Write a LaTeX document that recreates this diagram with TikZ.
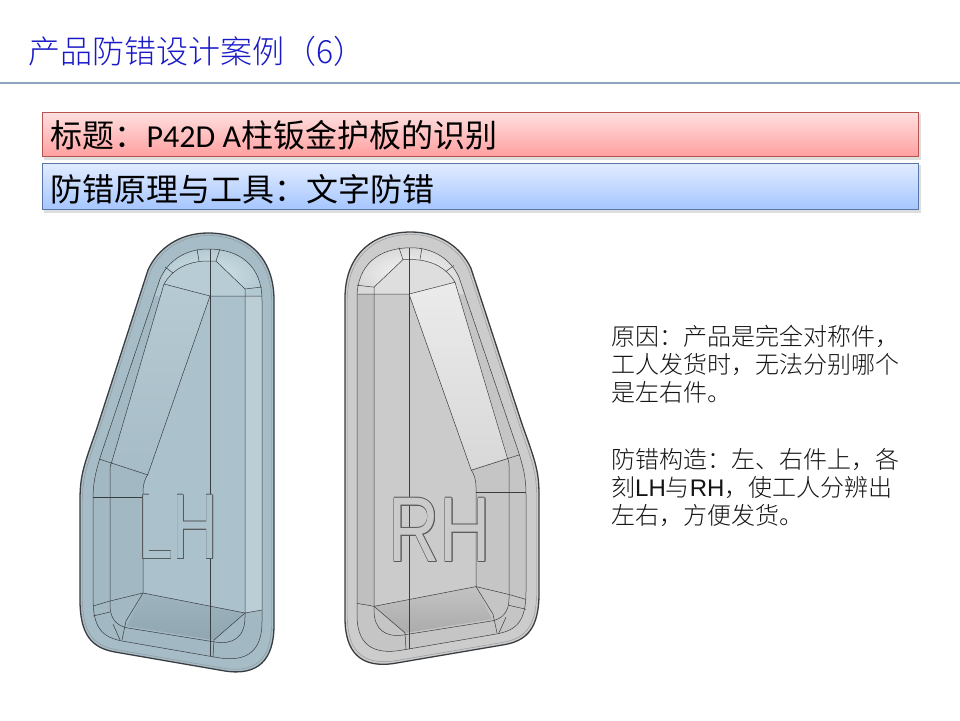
\documentclass[tikz,border=0pt]{standalone}
\usepackage{fontspec}
\setmainfont{Noto Sans CJK SC}
\IfFontExistsTF{Noto Sans CJK SC Light}{\newfontfamily\lightcjk{Noto Sans CJK SC Light}}{\newfontfamily\lightcjk{Noto Sans CJK SC}}
\newfontfamily\carlito{Carlito}
\newfontfamily\arialf{Liberation Sans}
\definecolor{titleblue}{RGB}{25,25,200}
\definecolor{headc}{RGB}{141,165,191}
\definecolor{redtop}{RGB}{255,224,224}
\definecolor{redbot}{RGB}{255,160,160}
\definecolor{redline}{RGB}{184,84,80}
\definecolor{bluetop}{RGB}{226,236,255}
\definecolor{bluebot}{RGB}{166,198,255}
\definecolor{blueline}{RGB}{86,119,168}
\definecolor{linec}{RGB}{58,62,66}
\definecolor{bodyc}{RGB}{20,20,20}
\definecolor{lhfloor}{HTML}{ABC1CB}
\definecolor{rhfloor}{HTML}{CBCBCB}

\def\Opath{(274,300) .. controls (274,258) and (248,233) .. (208,233) .. controls (180,233) and (158,248) .. (148,270) -- (97,428) .. controls (84,465) and (80,475) .. (80,500) -- (80,600) .. controls (80,635) and (92,648) .. (115,652) -- (225,671) .. controls (258,676) and (274,660) .. (274,625) -- cycle}
\def\Rpath{(271.5,300) .. controls (271.5,260) and (246,235.5) .. (208,235.5) .. controls (182,235.5) and (160.5,250) .. (150.5,271) -- (99.5,429) .. controls (87,466) and (82.5,476) .. (82.5,500) -- (82.5,600) .. controls (82.5,633) and (94,645.5) .. (115.5,649.5) -- (225,668.5) .. controls (256,673) and (271.5,658) .. (271.5,625) -- cycle}
\def\Fpath{(262,300) .. controls (262,266) and (240,249) .. (208,249) .. controls (185,249) and (168,261) .. (160,279) -- (108,434) .. controls (97,466) and (93,478) .. (93,500) -- (93,598) .. controls (93,628) and (102,637) .. (122,641) -- (220,658) .. controls (248,662) and (262,650) .. (262,622) -- cycle}

\newcommand\panel{%
  \fill[cRim] \Opath;
  \fill[cWall] \Fpath;
  \shade[inner color=cDomeHi, outer color=cDome] (262,300) .. controls (262,266) and (240,249) .. (208,249) .. controls (185,249) and (168,261) .. (160,279) -- (155,296) -- (262,296) -- cycle;
  \shade[top color=cSlantT, bottom color=cSlantB] (164,284) -- (210,296) -- (148,474) -- (111,462) -- cycle;
  \fill[cFloor] (210,296) -- (245,296) -- (245,613) -- (143,593) -- (143,492) .. controls (143,484) and (145,479) .. (148,474) -- cycle;
  \fill[cStrip] (245,296) -- (262,296) -- (262,610) -- (245,613) -- cycle;
  \shade[top color=cBotT, bottom color=cBotB] (143,593) -- (245,613) -- (214,640) -- (127,626) -- cycle;
  \fill[cDomeTwo] (164,284) .. controls (172,270) and (186,262) .. (205,261) -- (216,261) -- (245,289) -- (245,296) -- (210,296) -- cycle;
  % lines
  \draw[rimline] \Rpath;
  \draw[crease] \Fpath;
  \draw[crease] (245,289) -- (245,617) .. controls (245,637) and (233,645) .. (215,642) -- (128,628) .. controls (116,626) and (110,618) .. (110,605) -- (110,470) .. controls (110,466) and (111,464) .. (112,461) -- (164,284);
  \draw[crease] (164,284) .. controls (172,270) and (186,262) .. (205,261) -- (216,261) -- (245,289);
  \draw[crease] (164,284) -- (210,296) -- (262,296);
  \draw[crease] (210,296) -- (148,474) .. controls (145,479) and (143,484) .. (143,492) -- (143,593);
  \draw[crease] (99,459) -- (148,475);
  \draw[crease] (93,497) -- (143,497);
  \draw[crease] (210,249) -- (210,656);
  \draw[crease] (262,610) -- (245,613) -- (143,593) -- (110,601) -- (93,606);
  \draw[crease] (143,593) -- (126,621) -- (122,640);
  \draw[crease] (245,613) -- (214,640) -- (213,657);
  \draw[crease] (197,249) -- (199,261);
  \draw[crease] (220,249) -- (216,261);
  \draw[crease] (245,289) -- (262,287);
  \draw[crease] (173,273) -- (165,267);
  \draw[crease] (93,616) -- (110,612);
  \draw[crease] (113,624) -- (120,640);
  \draw[outerline] \Opath;
}

\begin{document}
\begin{tikzpicture}[x=1pt,y=-1pt,
  crease/.style={draw=linec, line width=0.5pt, line join=round},
  rimline/.style={draw=linec!55, line width=0.45pt},
  outerline/.style={draw=linec, line width=1.3pt, line join=round},
  headline/.style={draw=headc, line width=1.3pt},
  barshadow/.style={fill=black, opacity=0.13},
  redbar/.style={draw=redline, line width=0.9pt, top color=redtop, bottom color=redbot},
  bluebar/.style={draw=blueline, line width=0.9pt, top color=bluetop, bottom color=bluebot},
  bartext/.style={anchor=base west, inner sep=0pt, font=\fontsize{32}{38}\selectfont, text=black},
  body/.style={anchor=base west, inner sep=0pt, font=\lightcjk\fontsize{24}{28}\selectfont, text=bodyc},
  letterfont/.style={inner sep=0pt, font=\arialf\fontsize{92}{92}\selectfont},
]
\useasboundingbox (0,0) rectangle (960,720);
\fill[white] (0,0) rectangle (960,720);

% title and header line
\node[anchor=base west, inner sep=0pt, font=\lightcjk\fontsize{32}{38}\selectfont, text=titleblue] (title) at (28,63) {产品防错设计案例（6）};
\coordinate (hl) at (0,83);
\coordinate (hr) at (960,83);
\draw[headline] (hl) -- (hr);

% bars
\fill[barshadow] (44,114) rectangle (921,159.5);
\fill[barshadow] (44,165) rectangle (921,212.5);
\path[redbar] (42,112) rectangle (918,156);
\path[bluebar] (42,163) rectangle (918,209);
\node[bartext] (bar1text) at (50.5,147) {标题：{\carlito P42D A}柱钣金护板的识别};
\node[bartext] (bar2text) at (50.5,201) {防错原理与工具：文字防错};

% LH panel
\begin{scope}
  \definecolor{cRim}{HTML}{A6BDC7}
  \definecolor{cWall}{HTML}{A2B8C2}
  \definecolor{cDome}{HTML}{B3C9D2}
  \definecolor{cDomeHi}{HTML}{D4E3E9}
  \definecolor{cDomeTwo}{HTML}{B8CCD5}
  \definecolor{cSlantT}{HTML}{B6CAD3}
  \definecolor{cSlantB}{HTML}{A6BCC6}
  \colorlet{cFloor}{lhfloor}
  \definecolor{cStrip}{HTML}{BBCED6}
  \definecolor{cBotT}{HTML}{9DB3BE}
  \definecolor{cBotB}{HTML}{90A7B2}
  \panel
\end{scope}

% RH panel (mirror)
\begin{scope}[shift={(619,232)}, xscale=-1, yscale=0.985, shift={(0,-233)}]
  \definecolor{cRim}{HTML}{CCCCCC}
  \definecolor{cWall}{HTML}{C5C5C5}
  \definecolor{cDome}{HTML}{D9D9D9}
  \definecolor{cDomeHi}{HTML}{F6F6F6}
  \definecolor{cDomeTwo}{HTML}{DEDEDE}
  \definecolor{cSlantT}{HTML}{EBEBEB}
  \definecolor{cSlantB}{HTML}{D8D8D8}
  \colorlet{cFloor}{rhfloor}
  \definecolor{cStrip}{HTML}{BFBFBF}
  \definecolor{cBotT}{HTML}{C3C3C3}
  \definecolor{cBotB}{HTML}{ABABAB}
  \panel
\end{scope}

% engraved letters
\foreach \a [count=\i] in {0,45,...,315}{
  \node[letterfont, text=linec!85, xshift={0.7*cos(\a)}, yshift={0.7*sin(\a)}, xscale=0.68] (lhc\i) at (178,527) {LH};
  \node[letterfont, text=linec!85, xshift={0.7*cos(\a)}, yshift={0.7*sin(\a)}, xscale=0.77] (rhc\i) at (440,530) {RH};
}
\node[letterfont, text=lhfloor, xscale=0.68] (lh) at (178,527) {LH};
\node[letterfont, text=rhfloor, xscale=0.77] (rh) at (440,530) {RH};

% explanation text
\node[body] (l1) at (611,345) {原因：产品是完全对称件，};
\node[body] (l2) at (611,373) {工人发货时，无法分别哪个};
\node[body] (l3) at (611,401) {是左右件。};
\node[body] (l4) at (611,468) {防错构造：左、右件上，各};
\node[body] (l5) at (611,496) {刻{\arialf LH}与{\arialf RH}，使工人分辨出};
\node[body] (l6) at (611,524) {左右，方便发货。};
\end{tikzpicture}
\end{document}
